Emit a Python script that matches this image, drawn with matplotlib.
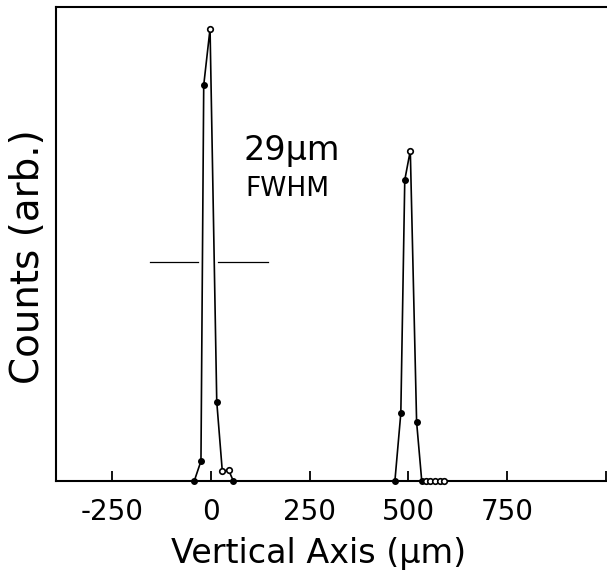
import numpy as np
import matplotlib.pyplot as plt

# positions in um, counts in arbitrary units (axis top = 1000)
left_x = [-42, -25, -18, -2, 15, 29, 45, 57]
left_y = [0, 42, 835, 954, 167, 21, 23, 0]

right_x = [466, 481, 491, 505, 521, 534, 546, 556, 567, 579, 590]
right_y = [0, 143, 635, 697, 124, 0, 0, 0, 0, 0, 0]

# half-maximum marker line (two pieces, broken at the peak)
fwhm_y = 462
fwhm_segments = [(-154, -32), (18, 145)]

xticks = [-250, 0, 250, 500, 750, 1000]
xticklabels = ['-250', '0', '250', '500', '750', '']

plt.rcParams['font.family'] = ['DejaVu Sans']
plt.rcParams['axes.unicode_minus'] = False

fig = plt.figure(figsize=(6.07, 5.74), dpi=100)
ax = fig.add_axes([56 / 607, 1 - 481 / 574, 551 / 607, 474 / 574])

# кривые с маркерами: открытые кружки для вершин и "хвоста"
for xs, ys, open_idx in [(left_x, left_y, [3, 5, 6]), (right_x, right_y, [3, 6, 7, 8, 9, 10])]:
    ax.plot(xs, ys, '-', color='black', lw=1.2, zorder=2, clip_on=False)
    filled = [i for i in range(len(xs)) if i not in open_idx]
    ax.plot([xs[i] for i in filled], [ys[i] for i in filled], 'o', color='black',
            markersize=4, zorder=3, clip_on=False)
    ax.plot([xs[i] for i in open_idx], [ys[i] for i in open_idx], 'o', mfc='white',
            mec='black', mew=1.2, markersize=4, zorder=3, clip_on=False)

for x0, x1 in fwhm_segments:
    ax.plot([x0, x1], [fwhm_y, fwhm_y], '-', color='black', lw=0.9)

ax.text(0.341, 0.677, '29µm', transform=ax.transAxes, fontsize=24, ha='left', va='baseline')
ax.text(0.343, 0.601, 'FWHM', transform=ax.transAxes, fontsize=19, ha='left', va='baseline')

ax.set_xlim(-392, 1003)
ax.set_ylim(0, 1000)
ax.set_xticks(xticks)
ax.set_xticklabels(xticklabels, fontsize=20)
ax.set_yticks([])
ax.tick_params(axis='x', direction='in', length=7, width=1.3, pad=12)
ax.spines['right'].set_visible(False)
for s in ['left', 'top', 'bottom']:
    ax.spines[s].set_linewidth(1.5)

fig.text(28 / 607, 1 - 257 / 574, 'Counts (arb.)', rotation=90, fontsize=28,
         ha='center', va='center')
fig.text(319 / 607, 1 - 553 / 574, 'Vertical Axis (µm)', fontsize=24,
         ha='center', va='center')

plt.savefig('out.png', dpi=100)
